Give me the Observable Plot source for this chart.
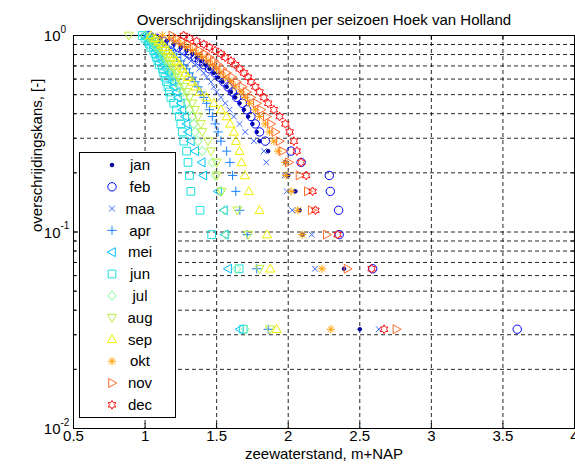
<!DOCTYPE html>
<html><head><meta charset="utf-8">
<script src="https://cdn.jsdelivr.net/npm/d3@7"></script>
<script src="https://cdn.jsdelivr.net/npm/@observablehq/plot@0.6"></script>
<style>
body{margin:0;background:#fff;}
#chart{width:575px;height:467px;overflow:hidden;}
</style></head><body><div id="chart"></div>
<script>
const title = "Overschrijdingskanslijnen per seizoen Hoek van Holland";
const xLabel = "zeewaterstand, m+NAP";
const yLabel = "overschrijdingskans, [-]";
const months = ["jan","feb","maa","apr","mei","jun","jul","aug","sep","okt","nov","dec"];
const monthColors = ["#00009c","#0000ff","#3a66ff","#1a80ff","#00bfff","#1fe0e0","#80f890","#bff040","#f0f000","#ffa000","#ff6a2a","#ff1010"];
// exceedance probability for each ranked value (smallest value first)
const probs = [1.000,0.968,0.935,0.903,0.871,0.839,0.806,0.774,0.742,0.710,0.677,0.645,0.613,0.581,0.548,0.516,0.484,0.452,0.419,0.387,0.355,0.323,0.290,0.258,0.226,0.194,0.161,0.129,0.097,0.065,0.032];
const jan = [1.05,1.10,1.15,1.20,1.25,1.29,1.33,1.36,1.39,1.42,1.45,1.48,1.51,1.54,1.57,1.60,1.63,1.66,1.69,1.72,1.75,1.78,1.80,1.86,1.98,2.00,2.05,2.08,2.10,2.39,2.50];
const feb = [1.03,1.08,1.13,1.18,1.23,1.27,1.31,1.35,1.38,1.41,1.45,1.49,1.52,1.55,1.58,1.61,1.64,1.68,1.71,1.74,1.77,1.80,1.84,2.02,2.09,2.287,2.294,2.352,2.356,2.59,3.60];
const maa = [1.00,1.05,1.10,1.14,1.18,1.22,1.26,1.29,1.32,1.35,1.38,1.41,1.43,1.46,1.48,1.50,1.53,1.56,1.59,1.62,1.66,1.70,1.76,1.83,1.847,1.975,1.99,2.028,2.164,2.187,2.633];
const apr = [1.02,1.06,1.09,1.12,1.15,1.17,1.20,1.22,1.25,1.27,1.29,1.31,1.33,1.35,1.37,1.39,1.41,1.43,1.45,1.47,1.49,1.51,1.53,1.57,1.593,1.611,1.634,1.662,1.713,1.78,1.86];
const mei = [0.99,1.01,1.03,1.05,1.06,1.08,1.09,1.10,1.11,1.13,1.14,1.16,1.17,1.19,1.20,1.22,1.23,1.25,1.26,1.28,1.29,1.30,1.32,1.35,1.396,1.407,1.51,1.551,1.558,1.58,1.663];
const jun = [0.98,1.00,1.02,1.03,1.04,1.06,1.07,1.08,1.09,1.10,1.12,1.13,1.14,1.15,1.16,1.17,1.18,1.20,1.22,1.24,1.25,1.26,1.27,1.29,1.30,1.31,1.32,1.384,1.465,1.657,1.686];
const jul = [1.00,1.03,1.05,1.07,1.08,1.10,1.12,1.13,1.15,1.16,1.18,1.19,1.21,1.22,1.24,1.26,1.27,1.29,1.31,1.33,1.34,1.35,1.37,1.40,1.47,1.49,1.528,1.555,1.565,1.64,1.70];
const aug = [0.886,1.04,1.07,1.09,1.10,1.12,1.14,1.15,1.17,1.18,1.20,1.22,1.23,1.25,1.27,1.29,1.31,1.33,1.35,1.37,1.39,1.40,1.44,1.46,1.50,1.50,1.535,1.644,1.72,1.80,1.872];
const sep = [1.04,1.07,1.10,1.12,1.14,1.16,1.18,1.20,1.22,1.24,1.26,1.28,1.30,1.33,1.35,1.38,1.43,1.48,1.53,1.57,1.595,1.62,1.635,1.66,1.674,1.697,1.725,1.80,1.852,1.875,1.919];
const okt = [1.12,1.17,1.21,1.25,1.29,1.33,1.37,1.40,1.44,1.47,1.50,1.53,1.56,1.60,1.63,1.67,1.70,1.73,1.77,1.80,1.84,1.87,1.90,1.93,1.98,1.986,2.02,2.067,2.097,2.236,2.298];
const nov = [1.19,1.22,1.26,1.30,1.34,1.38,1.42,1.45,1.48,1.51,1.54,1.57,1.61,1.64,1.68,1.71,1.74,1.78,1.81,1.85,1.88,1.91,1.94,1.96,2.005,2.079,2.137,2.164,2.27,2.414,2.756];
const dec = [1.27,1.31,1.36,1.41,1.45,1.49,1.53,1.56,1.60,1.63,1.66,1.69,1.72,1.74,1.77,1.80,1.83,1.86,1.90,1.94,1.98,2.01,2.04,2.06,2.09,2.125,2.17,2.19,2.345,2.583,2.67];
const series = [jan,feb,maa,apr,mei,jun,jul,aug,sep,okt,nov,dec];
const xTicks = [0.5,1,1.5,2,2.5,3,3.5,4];
const xGrid = [1,1.5,2,2.5,3,3.5];
const yMajor = [0.01,0.1,1];
const yExp = ["-2","-1","0"];
const yMinor = [0.02,0.03,0.04,0.05,0.06,0.07,0.08,0.09,0.2,0.3,0.4,0.5,0.6,0.7,0.8,0.9];

// marker shapes (MATLAB style)
const R = s => Math.sqrt(s / Math.PI);
function poly(ctx, pts){ ctx.moveTo(pts[0][0],pts[0][1]); for(let i=1;i<pts.length;i++) ctx.lineTo(pts[i][0],pts[i][1]); ctx.closePath(); }
const symCircle = {draw(c,s){const r=R(s); c.moveTo(r,0); c.arc(0,0,r,0,2*Math.PI); c.closePath();}};
const symTimes = {draw(c,s){const a=R(s)*0.72; c.moveTo(-a,-a); c.lineTo(a,a); c.moveTo(-a,a); c.lineTo(a,-a);}};
const symPlus = {draw(c,s){const r=R(s); c.moveTo(-r,0); c.lineTo(r,0); c.moveTo(0,-r); c.lineTo(0,r);}};
const symAst = {draw(c,s){const r=R(s), a=r*0.72; c.moveTo(-r,0); c.lineTo(r,0); c.moveTo(0,-r); c.lineTo(0,r); c.moveTo(-a,-a); c.lineTo(a,a); c.moveTo(-a,a); c.lineTo(a,-a);}};
const symSquare = {draw(c,s){const h=R(s)*0.82; poly(c,[[-h,-h],[h,-h],[h,h],[-h,h]]);}};
const symDiamond = {draw(c,s){const r=R(s); poly(c,[[0,-r],[r*0.85,0],[0,r],[-r*0.85,0]]);}};
const symUp = {draw(c,s){const r=R(s); poly(c,[[0,-r],[r*0.95,r*0.7],[-r*0.95,r*0.7]]);}};
const symDown = {draw(c,s){const r=R(s); poly(c,[[0,r],[r*0.95,-r*0.7],[-r*0.95,-r*0.7]]);}};
const symLeft = {draw(c,s){const r=R(s); poly(c,[[-r,0],[r*0.7,-r*0.95],[r*0.7,r*0.95]]);}};
const symRight = {draw(c,s){const r=R(s); poly(c,[[r,0],[-r*0.7,-r*0.95],[-r*0.7,r*0.95]]);}};
const symHex = {draw(c,s){const r=R(s), ri=r/Math.sqrt(3); const pts=[]; for(let i=0;i<12;i++){const a=-Math.PI/2+i*Math.PI/6; const rr=i%2?ri:r; pts.push([rr*Math.cos(a), rr*Math.sin(a)]);} poly(c,pts);}};
const symbols = [symCircle,symCircle,symTimes,symPlus,symLeft,symSquare,symDiamond,symDown,symUp,symAst,symRight,symHex];
const radii = [1.8,4.2,4,4.6,4.7,4.7,4.7,4.7,4.7,4.2,4.7,4.4];

const W=575, H=467, mL=73, mR=1, mT=35, mB=39;
const pw = W-mL-mR, ph = H-mT-mB;
const FONT = "'Liberation Sans', Arial, Helvetica, sans-serif";
const grid = {stroke:"#000", strokeWidth:1, strokeDasharray:"4,3", strokeOpacity:0.85};

const dotMarks = series.map((vals,i) => Plot.dot(vals.map((v,j)=>({x:v, p:probs[j]})), {
  x:"x", y:"p", symbol: symbols[i], r: radii[i], stroke: monthColors[i],
  fill: i===0 ? monthColors[i] : "none", strokeWidth: 1
}));

const plot = Plot.plot({
  width: W, height: H, marginLeft: mL, marginRight: mR, marginTop: mT, marginBottom: mB,
  style: {fontFamily: FONT, fontSize: "15px", background: "#fff", color: "#000"},
  x: {domain: [0.5, 4]},
  y: {type: "log", domain: [0.01, 1], axis: null},
  marks: [
    Plot.ruleX(xGrid, grid),
    Plot.ruleY(yMinor.concat([0.1]), grid),
    Plot.ruleX(xGrid, {insetTop: ph-5, stroke:"#000"}),
    Plot.ruleX(xGrid, {insetBottom: ph-5, stroke:"#000"}),
    Plot.ruleY([0.1], {insetRight: pw-5, stroke:"#000"}),
    Plot.ruleY(yMinor, {insetRight: pw-3, stroke:"#000"}),
    Plot.ruleY([0.1], {insetLeft: pw-5, stroke:"#000"}),
    Plot.ruleY(yMinor, {insetLeft: pw-3, stroke:"#000"}),
    Plot.frame({stroke:"#000"}),
    Plot.axisX({ticks: xTicks, tickSize: 0, tickPadding: 2, tickFormat: d => String(d), label: null, fontSize: 15}),
    Plot.text(yMajor, {y: d=>d, frameAnchor: "left", text: () => "10", textAnchor: "end", dx: -13, dy: 1, fontSize: 15}),
    Plot.text(yMajor, {y: d=>d, frameAnchor: "left", text: (d,i) => yExp[i], textAnchor: "start", dx: -13, dy: -6, fontSize: 10}),
    Plot.text([title], {frameAnchor: "top", text: d=>d, dy: -21, fontSize: 15}),
    Plot.text([xLabel], {frameAnchor: "bottom", text: d=>d, dy: 30, fontSize: 15}),
    Plot.text([yLabel], {frameAnchor: "left", text: d=>d, dx: -36, rotate: -90, fontSize: 15}),
    ...dotMarks
  ]
});
document.getElementById("chart").appendChild(plot);

// legend box inside the axes
const svg = d3.select(plot);
const lg = svg.append("g").attr("font-family", FONT).attr("font-size","15px");
lg.append("rect").attr("x",79.5).attr("y",152.5).attr("width",96).attr("height",265).attr("fill","#fff").attr("stroke","#000");
months.forEach((m,i) => {
  const cy = 165 + i*21.8;
  const p = d3.path();
  symbols[i].draw(p, Math.PI*radii[i]*radii[i]);
  lg.append("path").attr("transform",`translate(112,${cy})`).attr("d",p.toString())
    .attr("stroke",monthColors[i]).attr("fill", i===0?monthColors[i]:"none").attr("stroke-width",1);
  lg.append("text").attr("x",140).attr("y",cy).attr("dy","0.35em").text(m);
});
</script></body></html>
